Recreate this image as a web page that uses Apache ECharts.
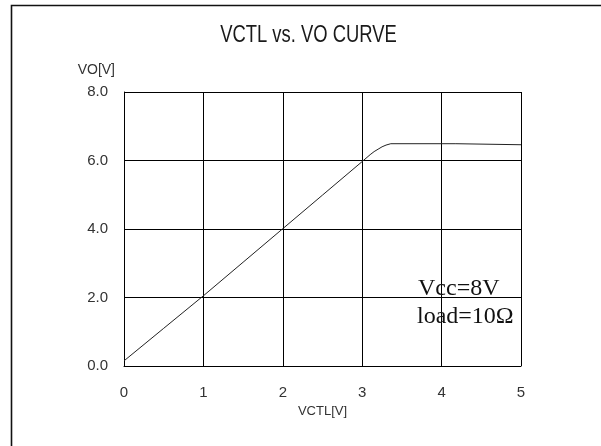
<!DOCTYPE html>
<html>
<head>
<meta charset="utf-8">
<script src="https://cdn.jsdelivr.net/npm/echarts@6/dist/echarts.min.js"></script>
<style>
html,body{margin:0;padding:0;background:#fff;}
#chart{width:601px;height:446px;}
</style>
</head>
<body>
<div id="chart"></div>
<script>
// ---- data ----
const vctl = [0, 0.5, 1, 1.5, 2, 2.5, 3, 3.1, 3.15, 3.2, 3.25, 3.3, 3.36, 4.18, 4.2, 5];
const vo   = [0.15, 1.1, 2.05, 3.03, 4.01, 4.99, 5.97, 6.17, 6.26, 6.33, 6.4, 6.45, 6.49, 6.49, 6.46, 6.46];
const yTickLabels = ['0.0', '2.0', '4.0', '6.0', '8.0'];
const xTickLabels = ['0', '1', '2', '3', '4', '5'];
const titleText = 'VCTL vs. VO CURVE';
const noteLines = ['Vcc=8V', 'load=10\u03A9'];

const chart = echarts.init(document.getElementById('chart'), null, {renderer: 'canvas'});
const seriesData = vctl.map((x, i) => [x, vo[i]]);

chart.setOption({
  backgroundColor: '#fff',
  animation: false,
  grid: {left: 124, right: 80, top: 92, bottom: 80, containLabel: false, show: false},
  xAxis: {
    type: 'value', min: 0, max: 5, interval: 1,
    name: 'VCTL[V]', nameLocation: 'middle', nameGap: 39,
    nameTextStyle: {fontFamily: 'Liberation Sans', fontSize: 13, color: '#333'},
    axisLine: {show: true, onZero: false, lineStyle: {color: '#000', width: 1}},
    axisTick: {show: false},
    axisLabel: {
      margin: 19, fontFamily: 'Liberation Sans', fontSize: 15, color: '#333',
      formatter: (v) => xTickLabels[Math.round(v)]
    },
    splitLine: {show: true, lineStyle: {color: '#000', width: 1}}
  },
  yAxis: {
    type: 'value', min: 0, max: 8, interval: 2,
    name: 'VO[V]', nameLocation: 'end', nameGap: 22,
    nameTextStyle: {fontFamily: 'Liberation Sans', fontSize: 14, color: '#333', align: 'right', verticalAlign: 'middle', padding: [0, 9, 0, 0]},
    axisLine: {show: true, onZero: false, lineStyle: {color: '#000', width: 1}},
    axisTick: {show: false},
    axisLabel: {
      margin: 16, fontFamily: 'Liberation Sans', fontSize: 15, color: '#333',
      formatter: (v) => yTickLabels[Math.round(v / 2)]
    },
    splitLine: {show: true, lineStyle: {color: '#000', width: 1}}
  },
  series: [{
    type: 'line',
    data: seriesData,
    showSymbol: false,
    smooth: false,
    lineStyle: {color: '#222', width: 1},
    z: 5
  }],
  graphic: [
    {
      type: 'polyline', silent: true,
      shape: {points: [[11.5, 446], [11.5, 5.5], [601, 5.5]]},
      style: {stroke: '#111', lineWidth: 1.6, fill: null}
    },
    {
      type: 'text', x: 0, y: 0,
      style: {
        text: titleText, x: 308.5, y: 36, align: 'center', verticalAlign: 'middle',
        font: '23px "Liberation Sans"', fill: '#1a1a1a'
      },
      scaleX: 0.8, originX: 308.5, originY: 36
    },
    {
      type: 'text', x: 0, y: 0,
      style: {
        text: noteLines[0], x: 418, y: 289, align: 'left', verticalAlign: 'middle',
        font: '24px "Liberation Serif"', fill: '#111'
      }, z: 10
    },
    {
      type: 'text', x: 0, y: 0,
      style: {
        text: noteLines[1], x: 417, y: 317, align: 'left', verticalAlign: 'middle',
        font: '24px "Liberation Serif"', fill: '#111'
      }, z: 10
    }
  ]
});
</script>
</body>
</html>
